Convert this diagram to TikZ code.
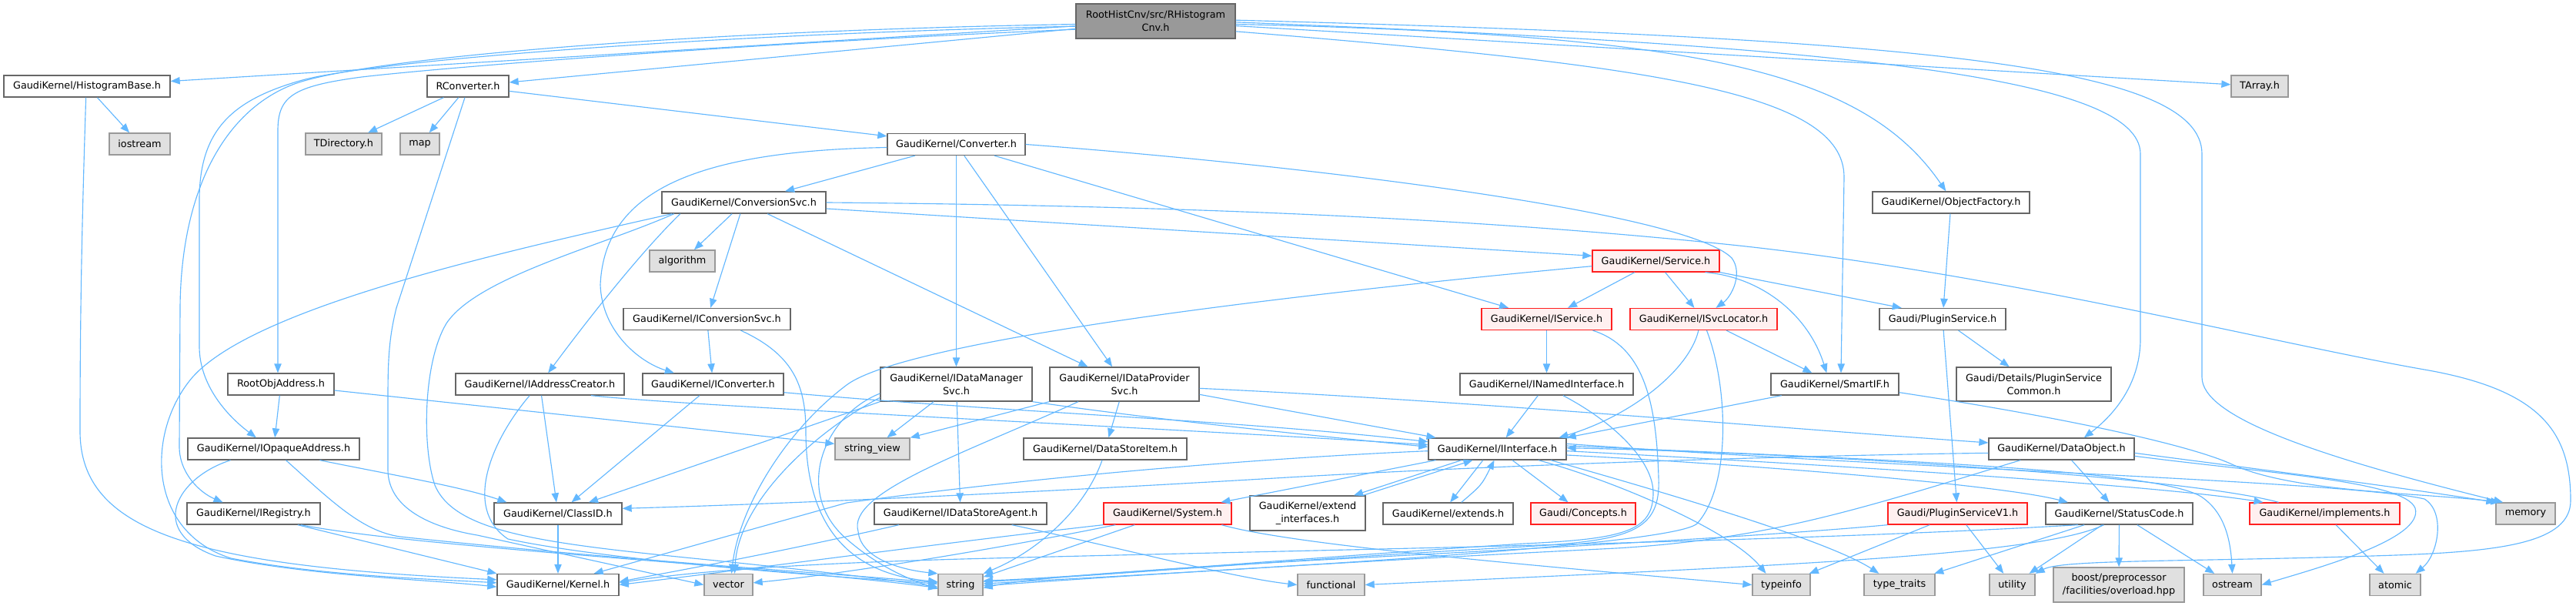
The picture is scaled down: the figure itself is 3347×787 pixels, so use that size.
\documentclass[tikz,border=0pt]{standalone}
\usepackage{fontspec}
\setmainfont{DejaVu Sans}
\usetikzlibrary{arrows.meta}
\definecolor{edgec}{HTML}{63B8FF}
\definecolor{sysfill}{HTML}{E0E0E0}
\definecolor{sysdraw}{HTML}{999999}
\definecolor{normdraw}{HTML}{666666}
\definecolor{rootfill}{HTML}{999999}
\definecolor{redfill}{HTML}{FFF0F0}
\definecolor{reddraw}{HTML}{FF2020}
\tikzset{
  nbase/.style={line width=1pt, inner sep=0pt, align=center, text=black},
  gn/.style={nbase, draw=normdraw, fill=white},
  sysn/.style={nbase, draw=sysdraw, fill=sysfill},
  redn/.style={nbase, draw=reddraw, fill=redfill},
  rootn/.style={nbase, draw=normdraw, fill=rootfill},
  e/.style={draw=edgec, line width=0.85pt, -{Triangle[length=9pt,width=7pt]}},
}
\newcommand{\gnode}[7]{\node[#1,minimum width=#5*0.75pt,minimum height=#6*0.75pt] (#2) at (#3,#4) {#7};}
\begin{document}
\begin{tikzpicture}[x=0.75pt,y=-0.75pt,font=\fontsize{9.6pt}{12.75pt}\selectfont]
\fill[white] (0,0) rectangle (3347,787);
\useasboundingbox (0,0) rectangle (3347,787);
% nodes
\gnode{rootn}{root}{1501.5}{27.5}{207}{45}{RootHistCnv/src/RHistogram\\Cnv.h}
\gnode{gn}{hb}{113}{112}{216}{28}{GaudiKernel/HistogramBase.h}
\gnode{sysn}{iostream}{181.5}{187}{79}{28}{iostream}
\gnode{sysn}{tdir}{446.5}{187}{99}{28}{TDirectory.h}
\gnode{sysn}{map}{545.5}{187}{51}{28}{map}
\gnode{gn}{rconv}{608}{112}{106}{28}{RConverter.h}
\gnode{gn}{converter}{1242.5}{187.5}{179}{28}{GaudiKernel/Converter.h}
\gnode{gn}{convsvc}{966.5}{263}{213}{28}{GaudiKernel/ConversionSvc.h}
\gnode{sysn}{algorithm}{886.5}{339}{85}{28}{algorithm}
\gnode{redn}{service}{2151.5}{339}{165}{28}{GaudiKernel/Service.h}
\gnode{gn}{objf}{2535}{263}{204}{28}{GaudiKernel/ObjectFactory.h}
\gnode{sysn}{tarray}{2936}{112}{74}{28}{TArray.h}
\gnode{gn}{roa}{365}{499}{138}{28}{RootObjAddress.h}
\gnode{gn}{ioa}{355.5}{583}{223}{28}{GaudiKernel/IOpaqueAddress.h}
\gnode{gn}{ireg}{329.5}{667}{173}{28}{GaudiKernel/IRegistry.h}
\gnode{gn}{iconvsvc}{918.5}{414.5}{217}{28}{GaudiKernel/IConversionSvc.h}
\gnode{gn}{iaddr}{701.5}{499}{219}{28}{GaudiKernel/IAddressCreator.h}
\gnode{gn}{iconv}{926.5}{499}{183}{28}{GaudiKernel/IConverter.h}
\gnode{gn}{classid}{725}{667}{166}{28}{GaudiKernel/ClassID.h}
\gnode{gn}{kernel}{725}{759.5}{158}{28}{GaudiKernel/Kernel.h}
\gnode{sysn}{vector}{946.5}{759.5}{63}{28}{vector}
\gnode{gn}{idatamgr}{1242.5}{499}{197}{44}{GaudiKernel/IDataManager\\Svc.h}
\gnode{gn}{idataprov}{1461}{499}{194}{44}{GaudiKernel/IDataProvider\\Svc.h}
\gnode{sysn}{strview}{1133.5}{583}{97}{28}{string\_view}
\gnode{gn}{dsitem}{1436}{583}{212}{28}{GaudiKernel/DataStoreItem.h}
\gnode{gn}{idsa}{1248}{667}{224}{28}{GaudiKernel/IDataStoreAgent.h}
\gnode{redn}{system}{1517}{667}{166}{28}{GaudiKernel/System.h}
\gnode{sysn}{string}{1248}{759.5}{58}{28}{string}
\gnode{redn}{iservice}{2009.5}{414.5}{169}{28}{GaudiKernel/IService.h}
\gnode{redn}{isvcloc}{2213.5}{414.5}{191}{28}{GaudiKernel/ISvcLocator.h}
\gnode{gn}{inamed}{2009.5}{499}{225}{28}{GaudiKernel/INamedInterface.h}
\gnode{gn}{iinterface}{1945.5}{583}{179}{28}{GaudiKernel/IInterface.h}
\gnode{gn}{extintf}{1699}{666.5}{150}{45}{GaudiKernel/extend\\\_interfaces.h}
\gnode{gn}{extends}{1881.5}{667}{169}{28}{GaudiKernel/extends.h}
\gnode{redn}{concepts}{2057}{667}{136}{28}{Gaudi/Concepts.h}
\gnode{sysn}{functional}{1729.5}{759.5}{87}{28}{functional}
\gnode{gn}{plugsvc}{2524}{414.5}{164}{28}{Gaudi/PluginService.h}
\gnode{gn}{smartif}{2384}{499}{166}{28}{GaudiKernel/SmartIF.h}
\gnode{gn}{common}{2642.5}{499}{201}{44}{Gaudi/Details/PluginService\\Common.h}
\gnode{gn}{dataobj}{2678.5}{583}{189}{28}{GaudiKernel/DataObject.h}
\gnode{redn}{pv1}{2543.5}{667}{181}{28}{Gaudi/PluginServiceV1.h}
\gnode{gn}{statuscode}{2753.5}{667}{191}{28}{GaudiKernel/StatusCode.h}
\gnode{redn}{implements}{3020.5}{667}{195}{28}{GaudiKernel/implements.h}
\gnode{sysn}{memory}{3281.5}{667}{77}{28}{memory}
\gnode{sysn}{typeinfo}{2314.5}{759.5}{75}{28}{typeinfo}
\gnode{sysn}{typetraits}{2468}{759.5}{92}{28}{type\_traits}
\gnode{sysn}{utility}{2614.5}{759.5}{59}{28}{utility}
\gnode{sysn}{boost}{2753}{759.5}{170}{45}{boost/preprocessor\\/facilities/overload.hpp}
\gnode{sysn}{ostream}{2900.5}{759.5}{75}{28}{ostream}
\gnode{sysn}{atomic}{3112}{759.5}{66}{28}{atomic}
% root edges
\draw[e] (root) -- (hb);
\draw[e] (root) -- (rconv);
\draw[e] ([yshift=-8pt]root.west) .. controls (1000,55) and (600,85) .. (470,100) .. controls (380,112) and (361,125) .. (361,170) -- ([xshift=-3pt]roa.north);
\draw[e] ([yshift=-5pt]root.west) .. controls (900,45) and (480,80) .. (393,104) .. controls (300,130) and (259,170) .. (259,260) -- (259,450) .. controls (259,500) and (295,540) .. ([xshift=-17pt]ioa.north);
\draw[e] ([yshift=-3pt]root.west) .. controls (900,40) and (470,75) .. (380,110) .. controls (290,145) and (235,250) .. (234,400) -- (233,580) .. controls (233,615) and (260,640) .. ([xshift=-30pt]ireg.north);
\draw[e] (root) -- (tarray);
\draw[e] ([yshift=-3pt]root.east) .. controls (2200,45) and (2420,90) .. ([xshift=-5pt]objf.north);
\draw[e] ([yshift=-10pt]root.east) .. controls (2150,85) and (2396,120) .. (2396,230) -- ([xshift=6pt]smartif.north);
\draw[e] ([yshift=-1pt]root.east) .. controls (2400,60) and (2781,100) .. (2781,200) -- (2781,440) .. controls (2781,500) and (2745,540) .. ([xshift=22pt]dataobj.north);
\draw[e] ([yshift=1pt]root.east) .. controls (2500,50) and (2861,85) .. (2861,200) -- (2861,490) .. controls (2861,540) and (3000,590) .. ([xshift=-22pt]memory.north);
% HistogramBase
\draw[e] (hb) -- (iostream);
\draw[e] ([xshift=-1pt]hb.south) .. controls (106,300) and (104,420) .. (104,560) .. controls (104,690) and (250,735) .. ([yshift=5pt]kernel.west);
% RConverter
\draw[e] (rconv) -- (tdir);
\draw[e] (rconv) -- (map);
\draw[e] (rconv) -- (converter);
\draw[e] ([xshift=-3pt]rconv.south) -- (515,400) .. controls (505,440) and (504,470) .. (504,520) -- (504,610) .. controls (504,660) and (560,685) .. (620,695) -- (vector.west);
% Converter
\draw[e] (converter) -- (convsvc);
\draw[e] ([yshift=-3pt]converter.west) .. controls (900,196) and (785,250) .. (780,370) .. controls (782,430) and (830,470) .. ([xshift=-38pt]iconv.north);
\draw[e] (converter) -- (idatamgr);
\draw[e] (converter) -- (idataprov);
\draw[e] (converter) -- (iservice);
\draw[e] (converter.east) .. controls (1700,215) and (2190,275) .. (2250,335) .. controls (2265,355) and (2250,385) .. ([xshift=12pt]isvcloc.north);
% ConversionSvc
\draw[e] ([xshift=-70pt]convsvc.south) .. controls (640,330) and (330,400) .. (250,490) .. controls (190,560) and (190,690) .. (300,725) .. controls (420,748) and (560,752) .. ([yshift=2pt]kernel.west);
\draw[e] ([xshift=-68pt]convsvc.south) .. controls (780,320) and (620,360) .. (580,420) .. controls (550,470) and (548,580) .. (565,630) .. controls (590,690) and (700,705) .. (900,725) .. controls (1050,740) and (1150,752) .. ([yshift=-2pt]string.west);
\draw[e] ([xshift=-62pt]convsvc.south) .. controls (830,330) and (760,420) .. ([xshift=8pt]iaddr.north);
\draw[e] (convsvc) -- (algorithm);
\draw[e] (convsvc) -- (iconvsvc);
\draw[e] (convsvc) -- (idataprov);
\draw[e] ([yshift=-6pt]convsvc.east) -- ([yshift=5pt]service.west);
\draw[e] (convsvc.east) .. controls (1650,268) and (2000,292) .. (2250,318) .. controls (2600,355) and (2950,445) .. (3150,480) .. controls (3300,506) and (3340,560) .. (3340,650) .. controls (3340,705) and (3250,716) .. (3113,721) .. controls (2850,730) and (2680,726) .. (utility.north east);
% IConversionSvc
\draw[e] (iconvsvc) -- (iconv);
\draw[e] ([xshift=33pt]iconvsvc.south) .. controls (1030,460) and (1047,500) .. (1047,560) .. controls (1047,680) and (1100,745) .. ([yshift=3pt]string.west);
% IAddressCreator
\draw[e] (iaddr) -- (classid);
\draw[e] ([xshift=-10pt]iaddr.south) .. controls (640,570) and (600,660) .. (660,700) .. controls (800,730) and (1100,750) .. ([yshift=1pt]string.west);
\draw[e] ([xshift=50pt]iaddr.south) .. controls (900,528) and (1500,555) .. ([yshift=4pt]iinterface.west);
% IConverter
\draw[e] (iconv) -- (classid);
\draw[e] ([yshift=-8pt]iconv.east) .. controls (1300,535) and (1600,545) .. ([yshift=7pt]iinterface.west);
% IDataManagerSvc
\draw[e] (idatamgr.south west) -- ([xshift=30pt]classid.north);
\draw[e] ([yshift=4pt]idatamgr.south west) .. controls (1060,560) and (960,650) .. ([xshift=6pt]vector.north);
\draw[e] ([yshift=8pt]idatamgr.south west) .. controls (1070,540) and (1030,640) .. (1100,700) .. controls (1140,735) and (1180,752) .. ([yshift=-4pt]string.west);
\draw[e] (idatamgr) -- (strview);
\draw[e] (idatamgr) -- (idsa);
\draw[e] (idatamgr.south east) .. controls (1500,545) and (1700,565) .. ([yshift=2pt]iinterface.west);
% IDataProviderSvc
\draw[e] (idataprov) -- (dsitem);
\draw[e] (idataprov.south west) -- (strview.north east);
\draw[e] ([xshift=-45pt]idataprov.south) .. controls (1250,590) and (1100,640) .. (1115,690) .. controls (1118,725) and (1170,740) .. (string.north west);
\draw[e] ([yshift=-10pt]idataprov.east) -- ([xshift=-60pt]iinterface.north);
\draw[e] ([yshift=-4pt]idataprov.east) .. controls (1900,520) and (2300,555) .. ([yshift=6pt]dataobj.west);
% DataStoreItem
\draw[e] ([xshift=-3pt]dsitem.south) .. controls (1410,660) and (1350,715) .. (string.north east);
% IDataStoreAgent
\draw[e] ([xshift=-60pt]idsa.south) .. controls (1000,720) and (860,745) .. ([yshift=3pt]kernel.east);
\draw[e] ([xshift=50pt]idsa.south) .. controls (1450,710) and (1600,750) .. (functional.west);
% System
\draw[e] (system.south west) .. controls (1250,702) and (950,742) .. (kernel.east);
\draw[e] (system) -- (string);
\draw[e] ([xshift=-10pt]system.south east) .. controls (1680,708) and (2000,735) .. (typeinfo.west);
\draw[e] ([xshift=12pt]system.south west) .. controls (1300,712) and (1100,745) .. ([yshift=2pt]vector.east);
% Service
\draw[e] (service) -- (iservice);
\draw[e] (service) -- (isvcloc);
\draw[e] ([xshift=48pt]service.south) .. controls (2290,360) and (2350,410) .. ([xshift=-8pt]smartif.north);
\draw[e] (service.south east) -- ([xshift=-40pt]plugsvc.north);
\draw[e] ([yshift=-5pt]service.west) .. controls (1700,380) and (1180,440) .. (1100,500) .. controls (1020,560) and (960,660) .. ([xshift=3pt]vector.north);
% ObjectFactory
\draw[e] (objf) -- (plugsvc);
% IService
\draw[e] (iservice) -- (inamed);
\draw[e] ([xshift=45pt]iservice.south) .. controls (2135,450) and (2152,520) .. (2155,620) .. controls (2158,690) and (2120,702) .. (1980,710) .. controls (1700,725) and (1400,750) .. ([yshift=3pt]string.east);
% ISvcLocator
\draw[e] ([xshift=-5pt]isvcloc.south) .. controls (2195,480) and (2120,540) .. ([xshift=60pt]iinterface.north);
\draw[e] (isvcloc) -- (smartif);
\draw[e] ([xshift=3pt]isvcloc.south) .. controls (2245,500) and (2250,630) .. (2205,680) .. controls (2170,712) and (1500,745) .. ([yshift=1pt]string.east);
% INamedInterface
\draw[e] (inamed) -- (iinterface);
\draw[e] ([xshift=16pt]inamed.south) .. controls (2100,550) and (2148,600) .. (2148,640) .. controls (2148,690) and (2110,700) .. (1980,706) .. controls (1700,724) and (1400,750) .. ([yshift=4pt]string.east);
% PluginService
\draw[e] (plugsvc) -- (common);
\draw[e] (plugsvc) -- (pv1);
% SmartIF
\draw[e] ([xshift=-52pt]smartif.south) -- (iinterface.north east);
\draw[e] ([yshift=-8pt]smartif.east) .. controls (2700,545) and (2850,580) .. (2900,603) .. controls (2980,640) and (3150,640) .. ([xshift=-25pt]memory.north);
% DataObject
\draw[e] ([yshift=-4pt]dataobj.west) .. controls (2300,592) and (1900,606) .. (1640,622) .. controls (1300,642) and (1000,655) .. ([yshift=5pt]classid.east);
\draw[e] (dataobj) -- (statuscode);
\draw[e] ([xshift=-40pt]dataobj.south) .. controls (2420,660) and (2300,700) .. (2100,712) .. controls (1700,732) and (1400,752) .. ([yshift=-1pt]string.east);
\draw[e] ([yshift=-4pt]dataobj.east) .. controls (2900,605) and (3100,630) .. (memory.north west);
\draw[e] ([yshift=-7pt]dataobj.east) .. controls (2950,615) and (3125,625) .. (3138,660) .. controls (3150,700) and (3010,738) .. (ostream.east);
% IInterface
\draw[e] ([xshift=-60pt]iinterface.south) -- ([xshift=52pt]system.north);
\draw[e] ([xshift=-35pt]iinterface.south) -- ([xshift=45pt]extintf.north);
\draw[e] ([xshift=54pt]extintf.north) -- ([xshift=-24pt]iinterface.south);
\draw[e] ([xshift=-14pt]iinterface.south) -- ([xshift=2pt]extends.north);
\draw[e] ([xshift=13pt]extends.north) .. controls (1925,630) .. ([xshift=-3pt]iinterface.south);
\draw[e] (iinterface) -- (concepts);
\draw[e] ([xshift=40pt]iinterface.south) .. controls (2100,625) and (2250,690) .. ([xshift=-15pt]typeinfo.north);
\draw[e] ([xshift=52pt]iinterface.south) .. controls (2200,650) and (2380,705) .. ([xshift=-20pt]typetraits.north);
\draw[e] ([yshift=-6pt]iinterface.east) .. controls (2300,605) and (2600,630) .. ([xshift=-50pt]statuscode.north);
\draw[e] ([yshift=-2pt]iinterface.east) .. controls (2400,605) and (2800,630) .. ([xshift=-60pt]implements.north);
\draw[e] ([xshift=-45pt]implements.north) .. controls (2850,622) and (2400,590) .. ([yshift=1pt]iinterface.east);
\draw[e] ([yshift=3pt]iinterface.east) .. controls (2400,595) and (2800,608) .. (2860,645) .. controls (2890,665) and (2898,700) .. (ostream.north);
\draw[e] ([yshift=5pt]iinterface.east) .. controls (2500,610) and (3050,625) .. (3150,648) .. controls (3178,665) and (3168,720) .. ([xshift=20pt]atomic.north);
\draw[e] ([yshift=-2pt]iinterface.west) .. controls (1700,592) and (1400,612) .. (1100,653) -- ([xshift=35pt]kernel.north);
% StatusCode
\draw[e] (statuscode) -- (boost);
\draw[e] ([xshift=-40pt]statuscode.south) .. controls (2300,705) and (1700,714) .. (1250,726) .. controls (1000,733) and (880,745) .. ([yshift=2pt]kernel.east);
\draw[e] ([xshift=-15pt]statuscode.south) .. controls (2650,722) and (2300,735) .. (functional.east);
\draw[e] (statuscode) -- (ostream);
\draw[e] (statuscode) -- (typetraits);
\draw[e] (statuscode) -- (utility);
% PluginServiceV1
\draw[e] (pv1.south west) .. controls (2300,696) and (2000,712) .. (1700,728) .. controls (1450,742) and (1330,752) .. ([yshift=-3pt]string.east);
\draw[e] (pv1) -- (typeinfo);
\draw[e] (pv1) -- (utility);
% implements
\draw[e] (implements) -- (atomic);
% IOpaqueAddress
\draw[e] ([xshift=45pt]ioa.south) .. controls (500,615) and (600,632) .. ([xshift=-50pt]classid.north);
\draw[e] ([xshift=-42pt]ioa.south) .. controls (230,620) and (190,690) .. (280,722) .. controls (400,748) and (550,752) .. ([yshift=-2pt]kernel.west);
\draw[e] ([xshift=12pt]ioa.south) .. controls (430,650) and (470,690) .. (520,697) .. controls (800,727) and (1100,746) .. ([yshift=2pt]string.west);
% RootObjAddress
\draw[e] (roa) -- (ioa);
\draw[e] ([yshift=-6pt]roa.east) -- ([yshift=5pt]strview.west);
% IRegistry
\draw[e] ([xshift=43pt]ireg.south) -- (kernel.north west);
\draw[e] ([xshift=46pt]ireg.south) .. controls (550,712) and (1000,735) .. ([yshift=-3pt]string.west);
% ClassID
\draw[e] (classid) -- (kernel);
\end{tikzpicture}
\end{document}
